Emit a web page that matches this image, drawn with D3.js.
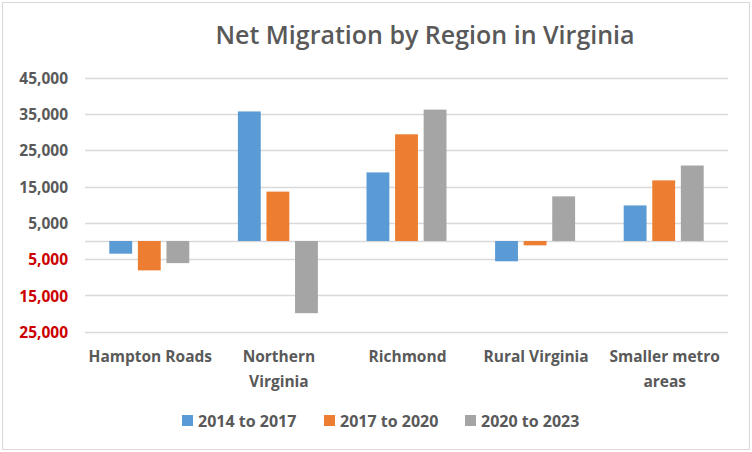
<!DOCTYPE html>
<html><head><meta charset="utf-8">
<script src="https://cdn.jsdelivr.net/npm/d3@7"></script>
<style>body{margin:0;background:#fff}svg{display:block}</style>
</head><body>
<script>
const categories = [["Hampton Roads"], ["Northern", "Virginia"], ["Richmond"], ["Rural Virginia"], ["Smaller metro", "areas"]];
const seriesNames = ["2014 to 2017", "2017 to 2020", "2020 to 2023"];
const s2014 = [-3500, 35700, 18900, -5600, 9800];
const s2017 = [-8100, 13600, 29400, -1200, 16700];
const s2020 = [-6100, -19900, 36200, 12300, 20800];
const yTicks = [-25000, -15000, -5000, 5000, 15000, 25000, 35000, 45000];
const colors = ["#5b9bd5", "#ed7d31", "#a5a5a5"];
const title = "Net Migration by Region in Virginia";

const W = 752, H = 452;
const svg = d3.select("body").append("svg").attr("width", W).attr("height", H);
svg.append("rect").attr("x", 2.5).attr("y", 2.5).attr("width", 747).attr("height", 447)
  .attr("fill", "#fff").attr("stroke", "#d9d9d9");

const font = "'Open Sans', 'Noto Sans', sans-serif";
const catKeys = categories.map(c => c.join(" "));
const x = d3.scaleBand().domain(catKeys).range([85, 728]);
const x1 = d3.scaleBand().domain(seriesNames).range([-40, 40]).paddingInner(0.2);
const y = d3.scaleLinear().domain([-25000, 45000]).range([331.7, 77.7]);

// gridlines
const grid = svg.append("g");
grid.selectAll("line").data(yTicks.concat([0])).join("line")
  .attr("x1", 85).attr("x2", 728)
  .attr("y1", d => Math.round(y(d)) + 0.5).attr("y2", d => Math.round(y(d)) + 0.5)
  .attr("stroke", "#d9d9d9").attr("stroke-width", 1.3);

// y axis labels
const yAxis = d3.axisLeft(y).tickValues(yTicks).tickSize(0).tickPadding(0)
  .tickFormat(d => d3.format(",")(Math.abs(d)));
const ya = svg.append("g").attr("transform", "translate(68,0)").call(yAxis);
ya.select(".domain").remove();
ya.selectAll("text").attr("font-family", font).attr("font-size", 15.5).attr("font-weight", 700)
  .attr("fill", d => d < 0 ? "#cc0000" : "#595959").attr("dy", "0.36em");

// bars
const allSeries = [s2014, s2017, s2020];
allSeries.forEach((vals, si) => {
  svg.append("g").selectAll("rect").data(vals).join("rect")
    .attr("x", (d, i) => x(catKeys[i]) + x.bandwidth() / 2 + x1(seriesNames[si]))
    .attr("width", x1.bandwidth())
    .attr("y", d => y(Math.max(0, d)))
    .attr("height", d => Math.abs(y(d) - y(0)))
    .attr("fill", colors[si]);
});

// x labels
const xl = svg.append("g");
categories.forEach((lines, i) => {
  const t = xl.append("text").attr("x", x(catKeys[i]) + x.bandwidth() / 2 + 1).attr("y", 362)
    .attr("text-anchor", "middle").attr("font-family", font).attr("font-size", 15.5)
    .attr("font-weight", 700).attr("fill", "#595959");
  lines.forEach((l, j) => t.append("tspan").attr("x", x(catKeys[i]) + x.bandwidth() / 2 + 1)
    .attr("dy", j === 0 ? 0 : 25).text(l));
});

// title
svg.append("text").attr("x", 425).attr("y", 44).attr("text-anchor", "middle")
  .attr("font-family", font).attr("font-size", 25).attr("font-weight", 600)
  .attr("fill", "#595959").text(title);

// legend
const legX = [182, 324, 465];
const lg = svg.append("g");
seriesNames.forEach((s, i) => {
  lg.append("rect").attr("x", legX[i]).attr("y", 415).attr("width", 11).attr("height", 11).attr("fill", colors[i]);
  lg.append("text").attr("x", legX[i] + 16).attr("y", 426.5).attr("font-family", font)
    .attr("font-size", 16).attr("font-weight", 700).attr("fill", "#595959").text(s);
});
</script>
</body></html>
